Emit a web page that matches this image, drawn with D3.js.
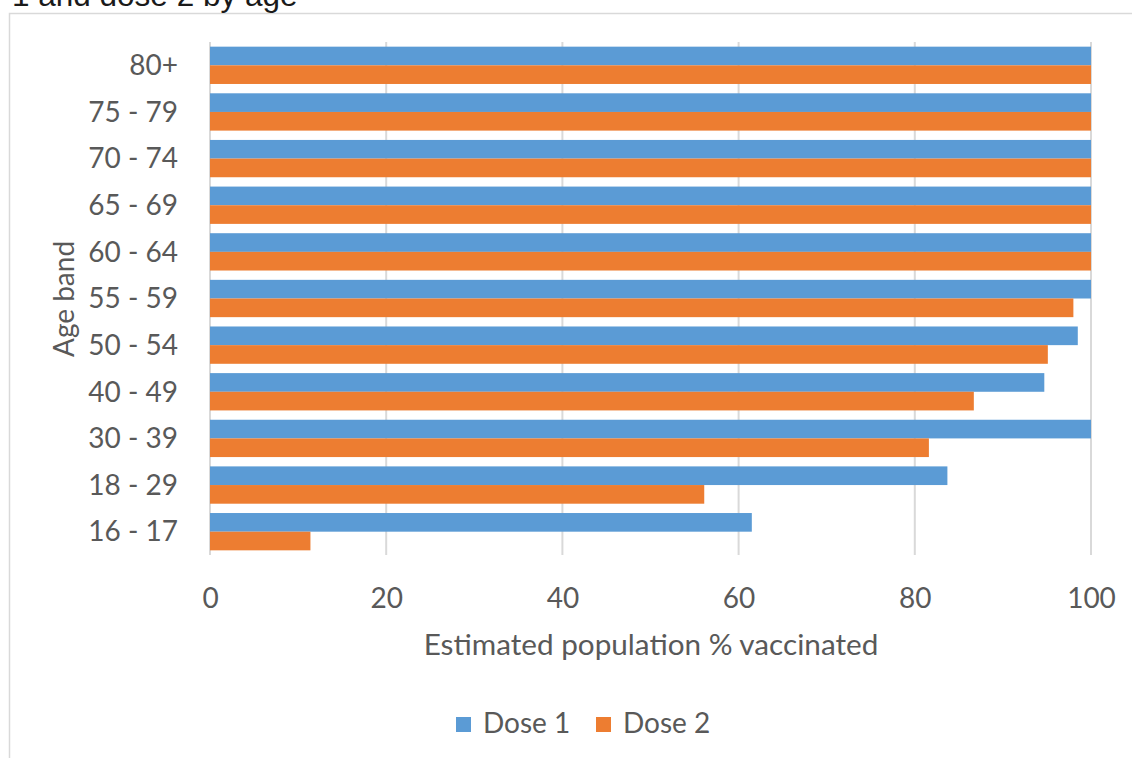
<!DOCTYPE html>
<html><head><meta charset="utf-8">
<script src="https://cdn.jsdelivr.net/npm/d3@7"></script>
<style>body{margin:0;background:#fff}svg{display:block}</style>
</head><body>
<svg id="c" width="1132" height="758"></svg>
<script>
const categories = ["80+","75 - 79","70 - 74","65 - 69","60 - 64","55 - 59","50 - 54","40 - 49","30 - 39","18 - 29","16 - 17"];
const dose1 = [100,100,100,100,100,100,98.5,94.7,100,83.7,61.5];
const dose2 = [100,100,100,100,100,98,95.1,86.7,81.6,56.1,11.4];
const seriesNames = ["Dose 1","Dose 2"];
const colors = ["#5b9bd5","#ed7d31"];
const xTicks = [0,20,40,60,80,100];

const svg = d3.select("#c");
const font = "Lato, 'Open Sans', sans-serif";
const grey = "#595959";
const fs = 28;

// chart border
svg.append("rect").attr("x",9.5).attr("y",13.5).attr("width",1140).attr("height",760)
  .attr("fill","none").attr("stroke","#d9d9d9").attr("stroke-width",1.5);

// partial title
svg.append("text").attr("x",12).attr("y",6).attr("font-family","'Liberation Sans', Arial, sans-serif")
  .attr("font-size",31.5).attr("fill","#1a1a1a").text("1 and dose 2 by age");

const x = d3.scaleLinear().domain([0,100]).range([210,1091]);
const y = d3.scaleBand().domain(categories).range([42,555]).paddingInner(0.2).paddingOuter(0.1);
const ys = d3.scaleBand().domain(seriesNames).range([0,y.bandwidth()]);

// gridlines
svg.append("g").selectAll("line").data(xTicks).join("line")
  .attr("x1",d=>x(d)).attr("x2",d=>x(d)).attr("y1",42).attr("y2",555)
  .attr("stroke","#d9d9d9").attr("stroke-width",2);

const data = categories.map((c,i)=>({c, v:[dose1[i],dose2[i]]}));
const g = svg.append("g");
data.forEach(d=>{
  seriesNames.forEach((s,j)=>{
    g.append("rect").attr("x",x(0)).attr("y",y(d.c)+ys(s))
      .attr("width",x(d.v[j])-x(0)).attr("height",ys.bandwidth())
      .attr("fill",colors[j]);
  });
});

// x axis tick labels
const xa = svg.append("g").attr("transform","translate(0,575)")
  .call(d3.axisBottom(x).tickValues(xTicks).tickSize(0).tickPadding(0));
xa.select(".domain").remove();
xa.selectAll("text").attr("font-family",font).attr("font-size",fs).attr("fill",grey).attr("dy","0").attr("y",33);

// y axis labels
const ya = svg.append("g").attr("transform","translate(178,0)")
  .call(d3.axisLeft(y).tickSize(0).tickPadding(0));
ya.select(".domain").remove();
ya.selectAll("text").attr("font-family",font).attr("font-size",fs).attr("fill",grey).attr("dy","0.35em");

// axis titles
svg.append("text").attr("x",651).attr("y",655).attr("text-anchor","middle")
  .attr("font-family",font).attr("font-size",29.7).attr("fill",grey).text("Estimated population % vaccinated");
svg.append("text").attr("transform","translate(74,299) rotate(-90)").attr("text-anchor","middle")
  .attr("font-family",font).attr("font-size",fs).attr("fill",grey).text("Age band");

// legend
const legX = [456,596];
seriesNames.forEach((s,j)=>{
  svg.append("rect").attr("x",legX[j]).attr("y",717).attr("width",15).attr("height",15).attr("fill",colors[j]);
  svg.append("text").attr("x",legX[j]+27).attr("y",733).attr("font-family",font).attr("font-size",fs)
    .attr("fill",grey).text(s);
});
</script>
</body></html>
